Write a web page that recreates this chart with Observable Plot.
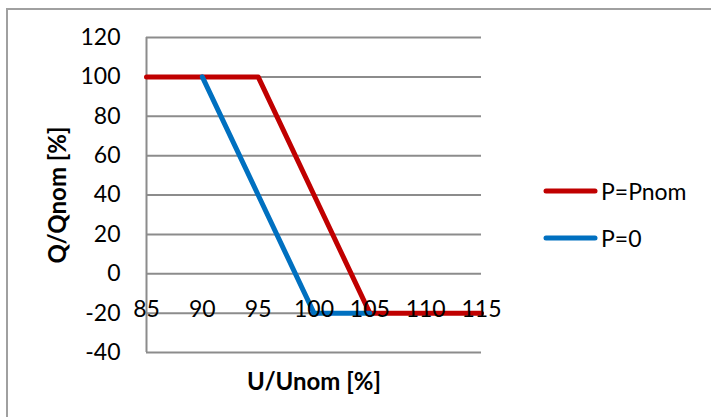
<!DOCTYPE html>
<html>
<head>
<meta charset="utf-8">
<script src="https://cdn.jsdelivr.net/npm/d3@7"></script>
<script src="https://cdn.jsdelivr.net/npm/@observablehq/plot@0.6"></script>
<style>
  html, body { margin: 0; padding: 0; background: #fff; overflow: hidden; }
  #wrap { position: relative; width: 711px; height: 417px; font-family: Lato, "Open Sans", sans-serif; }
  #frame { position: absolute; left: 6px; top: 8px; width: 800px; height: 500px; border: 2px solid #a0a0a0; box-sizing: border-box; }
  #chart { position: absolute; left: 0; top: 0; }
  #legend { position: absolute; left: 543px; top: 167px; font-size: 23px; color: #000; }
  .item { display: flex; align-items: center; height: 47px; }
</style>
</head>
<body>
<div id="wrap">
  <div id="frame"></div>
  <div id="chart"></div>
  <div id="legend"></div>
</div>
<script>
const uValues = [85, 90, 95, 100, 105, 110, 115];
const qPnom = [100, 100, 100, 40, -20, -20, -20];
const qP0 = [null, 100, 40, -20, -20, null, null];
const yTicks = [-40, -20, 0, 20, 40, 60, 80, 100, 120];
const xTicks = [85, 90, 95, 100, 105, 110, 115];
const seriesNames = ["P=Pnom", "P=0"];
const seriesColors = ["#C00000", "#0070C0"];

const rowsPnom = uValues.map((u, i) => ({u, q: qPnom[i]})).filter(d => d.q != null);
const rowsP0 = uValues.map((u, i) => ({u, q: qP0[i]})).filter(d => d.q != null);

const plain = d => String(d);

const plot = Plot.plot({
  width: 711,
  height: 417,
  marginLeft: 146,
  marginRight: 230,
  marginTop: 37,
  marginBottom: 65,
  style: {fontFamily: "Lato, 'Open Sans', sans-serif", fontSize: "23px", color: "#000", background: "transparent", overflow: "visible"},
  x: {type: "linear", domain: [85, 115]},
  y: {domain: [-40, 120]},
  marks: [
    Plot.gridY(yTicks, {stroke: "#8c8c8c", strokeOpacity: 1, strokeWidth: 2}),
    Plot.ruleX([85], {stroke: "#8c8c8c", strokeWidth: 2}),
    Plot.line(rowsPnom, {x: "u", y: "q", stroke: seriesColors[0], strokeWidth: 5, strokeLinejoin: "round"}),
    Plot.line(rowsP0, {x: "u", y: "q", stroke: seriesColors[1], strokeWidth: 5, strokeLinejoin: "round"}),
    Plot.axisY(yTicks, {anchor: "left", tickSize: 0, tickPadding: 26, label: null, fontSize: 23, tickFormat: plain}),
    Plot.axisX(xTicks, {anchor: "bottom", tickSize: 0, tickPadding: 0, dy: -52, label: null, fontSize: 23, tickFormat: plain}),
    Plot.text(["U/Unom [%]"], {frameAnchor: "bottom", dy: 30, textAnchor: "middle", lineAnchor: "middle", fontWeight: "bold", fontSize: 24}),
    Plot.text(["Q/Qnom [%]"], {frameAnchor: "left", dx: -88, rotate: -90, textAnchor: "middle", lineAnchor: "middle", fontWeight: "bold", fontSize: 24})
  ]
});
document.getElementById("chart").appendChild(plot);

const legend = document.getElementById("legend");
seriesNames.forEach((name, i) => {
  const item = document.createElement("div");
  item.className = "item";
  item.innerHTML = `<svg width="58" height="10"><line x1="3" y1="5" x2="52" y2="5" stroke="${seriesColors[i]}" stroke-width="5" stroke-linecap="round"/></svg><span>${name}</span>`;
  legend.appendChild(item);
});
</script>
</body>
</html>
